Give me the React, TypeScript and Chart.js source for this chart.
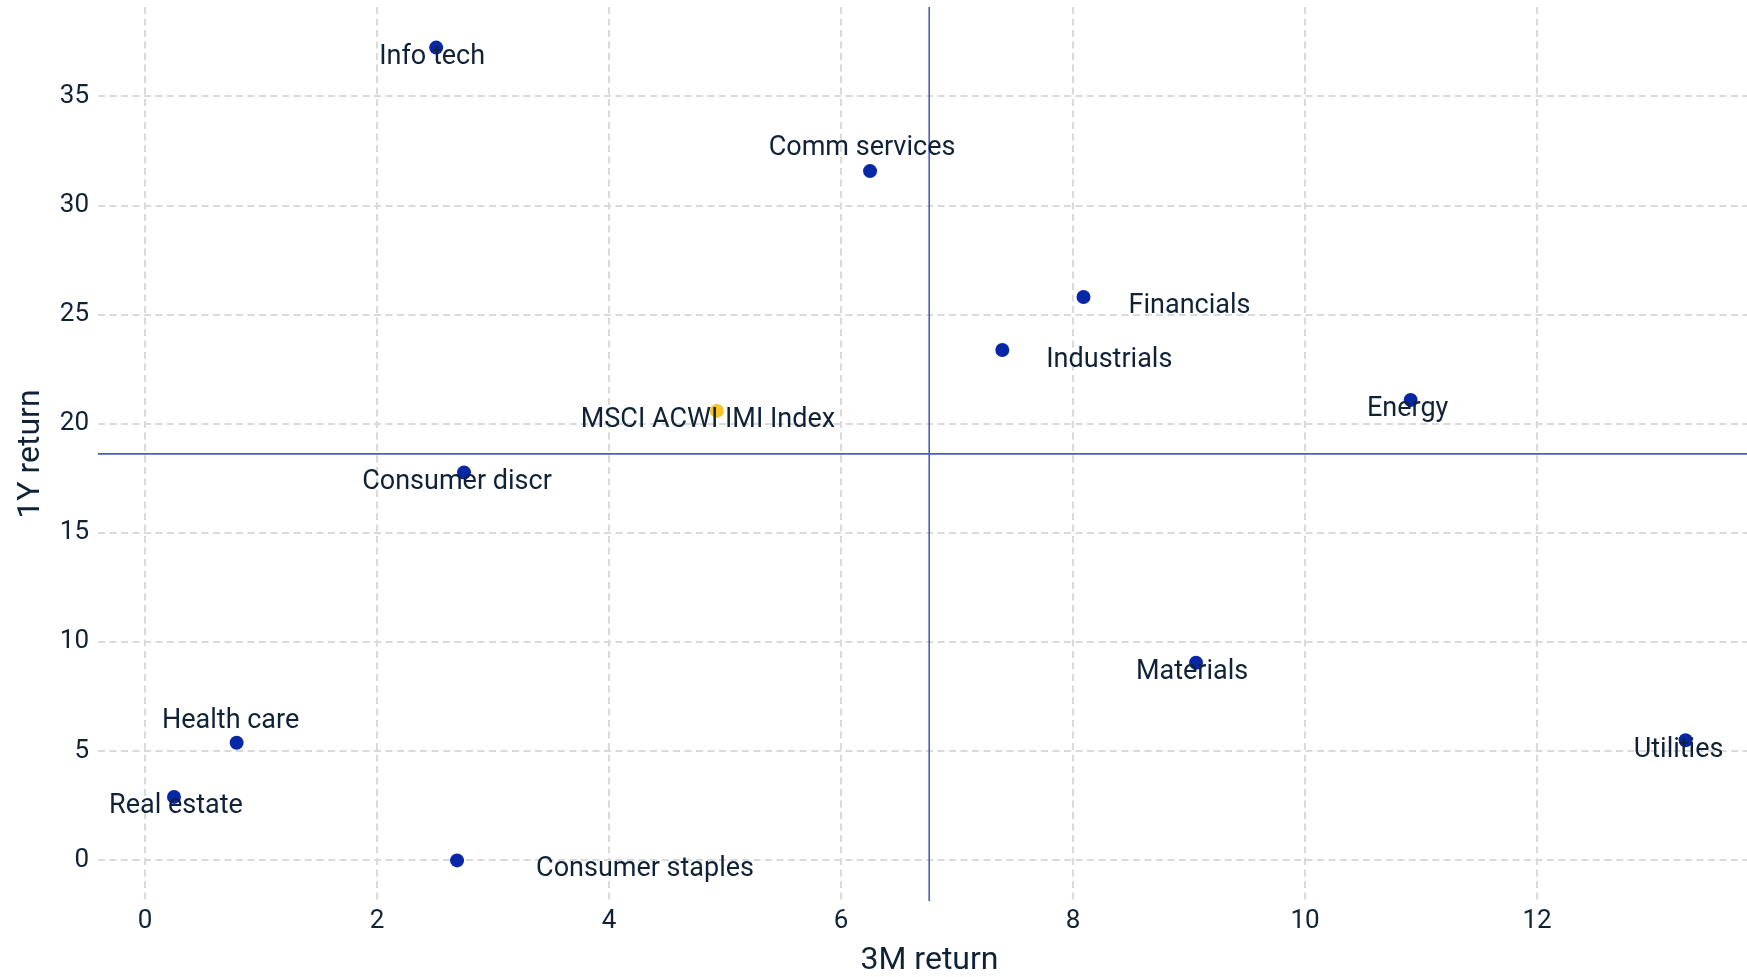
import React, { useEffect, useRef } from "react";
import { Chart, registerables } from "chart.js";

Chart.register(...registerables);

// ---- data ----
const sectors = [
  "Info tech",
  "Comm services",
  "Financials",
  "Industrials",
  "Energy",
  "Consumer discr",
  "Materials",
  "Utilities",
  "Health care",
  "Real estate",
  "Consumer staples",
];
const return3M = [2.51, 6.25, 8.09, 7.39, 10.91, 2.75, 9.06, 13.28, 0.79, 0.25, 2.69];
const return1Y = [37.24, 31.58, 25.81, 23.38, 21.09, 17.77, 9.05, 5.5, 5.38, 2.9, -0.01];

const indexName = "MSCI ACWI IMI Index";
const index3M = [4.93];
const index1Y = [20.59];

// reference (quadrant) lines
const refLine3M = 6.76;
const refLine1Y = 18.62;

const xTitle = "3M return";
const yTitle = "1Y return";

// label offsets in pixels (dx, dy to text baseline) mimicking the repelled labels
const sectorLabelDx = [-4, -8, 106, 107, -3, -7, -4, -7, -6, 2, 188];
const sectorLabelDy = [16, -16, 16.5, 16.5, 16.5, 16.5, 16.5, 16.5, -15, 16, 16];
const indexLabelDx = [-9];
const indexLabelDy = [16];

const TEXT = "#0f2236";
const FONT = "Roboto";

const refLinesPlugin = {
  id: "refLines",
  beforeDatasetsDraw(chart: any) {
    const { ctx, chartArea, scales } = chart;
    const px = scales.x.getPixelForValue(refLine3M);
    const py = scales.y.getPixelForValue(refLine1Y);
    ctx.save();
    ctx.strokeStyle = "#4a5cc5";
    ctx.lineWidth = 1.6;
    ctx.beginPath();
    ctx.moveTo(px, chartArea.top);
    ctx.lineTo(px, chartArea.bottom);
    ctx.moveTo(chartArea.left, py);
    ctx.lineTo(chartArea.right, py);
    ctx.stroke();
    ctx.restore();
  },
};

const labelsPlugin = {
  id: "pointLabels",
  afterDatasetsDraw(chart: any) {
    const { ctx } = chart;
    ctx.save();
    ctx.font = `27px ${FONT}`;
    ctx.fillStyle = TEXT;
    ctx.textAlign = "center";
    ctx.textBaseline = "alphabetic";
    chart.data.datasets.forEach((ds: any, di: number) => {
      const meta = chart.getDatasetMeta(di);
      meta.data.forEach((el: any, i: number) => {
        const text = ds.labels[i];
        ctx.fillText(text, el.x + ds.labelDx[i], el.y + ds.labelDy[i]);
      });
    });
    ctx.restore();
  },
};

export default function App() {
  const ref = useRef<HTMLCanvasElement>(null);

  useEffect(() => {
    if (!ref.current) return;
    const chart = new Chart(ref.current, {
      type: "scatter",
      data: {
        datasets: [
          {
            label: "Sectors",
            data: sectors.map((_, i) => ({ x: return3M[i], y: return1Y[i] })),
            backgroundColor: "#0727a6",
            borderWidth: 0,
            pointRadius: 7,
            labels: sectors,
            labelDx: sectorLabelDx,
            labelDy: sectorLabelDy,
          } as any,
          {
            label: indexName,
            data: index3M.map((v, i) => ({ x: v, y: index1Y[i] })),
            backgroundColor: "#f7c427",
            borderWidth: 0,
            pointRadius: 7,
            labels: [indexName],
            labelDx: indexLabelDx,
            labelDy: indexLabelDy,
          } as any,
        ],
      },
      options: {
        animation: false,
        responsive: false,
        devicePixelRatio: 1,
        layout: { padding: { top: 7, right: 1, left: 0, bottom: 0 } },
        plugins: {
          legend: { display: false },
          tooltip: { enabled: false },
        },
        scales: {
          x: {
            type: "linear",
            min: -0.405,
            max: 13.93,
            afterFit: (s: any) => {
              s.height = 76;
              s.paddingLeft = 0;
              s.paddingRight = 0;
            },
            border: { display: false, dash: [7, 4.5] },
            grid: {
              color: "#dadada",
              lineWidth: 2,
              drawTicks: false,
            },
            ticks: {
              stepSize: 2,
              includeBounds: false,
              padding: 5,
              color: TEXT,
              font: { family: FONT, size: 26 },
            },
            title: {
              display: true,
              text: xTitle,
              color: TEXT,
              font: { family: FONT, size: 32, lineHeight: 1 },
              padding: { top: 0, bottom: 0 },
            },
          },
          y: {
            type: "linear",
            min: -1.87,
            max: 39.1,
            afterFit: (s: any) => {
              s.width = 98;
              s.paddingTop = 0;
              s.paddingBottom = 0;
            },
            border: { display: false, dash: [7, 4.5] },
            grid: {
              color: "#dadada",
              lineWidth: 2,
              drawTicks: false,
            },
            ticks: {
              stepSize: 5,
              includeBounds: false,
              padding: 9,
              color: TEXT,
              font: { family: FONT, size: 26 },
            },
            title: {
              display: true,
              text: yTitle,
              color: TEXT,
              font: { family: FONT, size: 32, lineHeight: 1 },
              padding: { top: 15, bottom: 0 },
            },
          },
        },
      } as any,
      plugins: [refLinesPlugin, labelsPlugin],
    });
    return () => chart.destroy();
  }, []);

  return (
    <div
      style={{
        position: "fixed",
        left: 0,
        top: 0,
        width: 1747,
        height: 977,
        overflow: "hidden",
        background: "#ffffff",
      }}
    >
      <canvas ref={ref} width={1768} height={977} style={{ display: "block" }} />
    </div>
  );
}
